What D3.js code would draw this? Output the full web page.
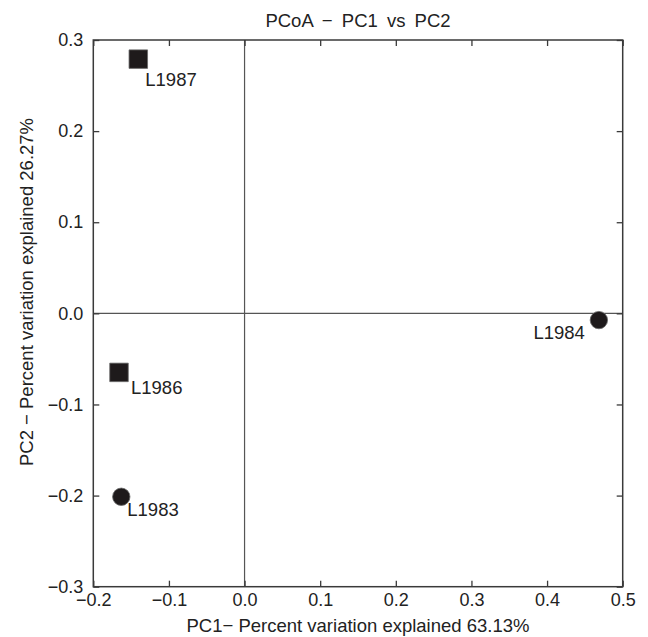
<!DOCTYPE html>
<html>
<head>
<meta charset="utf-8">
<script src="https://cdn.jsdelivr.net/npm/d3@7"></script>
<style>
  html, body { margin: 0; padding: 0; background: #fff; }
  text { font-family: "Liberation Sans", Arial, sans-serif; fill: #222; }
</style>
</head>
<body>
<svg id="chart" width="648" height="637"></svg>
<script>
// ---- data ----
const sampleNames = ["L1987", "L1986", "L1983", "L1984"];
const pc1Values   = [-0.1405, -0.166, -0.163, 0.4685];
const pc2Values   = [0.279, -0.0648, -0.2013, -0.0074];
const markerShape = ["square", "square", "circle", "circle"];
const xTickValues = [-0.2, -0.1, 0.0, 0.1, 0.2, 0.3, 0.4, 0.5];
const yTickValues = [-0.3, -0.2, -0.1, 0.0, 0.1, 0.2, 0.3];
const titleText  = "PCoA − PC1 vs PC2";
const xLabelText = "PC1− Percent variation explained 63.13%";
const yLabelText = "PC2 − Percent variation explained 26.27%";

// label placement (pixel offsets from marker, anchor)
const labelPlacement = [
  { dx: 7,  dy: 27, anchor: "start" },
  { dx: 12, dy: 22, anchor: "start" },
  { dx: 6,  dy: 19, anchor: "start" },
  { dx: -14, dy: 19, anchor: "end" }
];

// ---- layout ----
const mLeft = 93.3, mRight = 622.7, mTop = 40, mBottom = 586.7;
const svg = d3.select("#chart");
const x = d3.scaleLinear().domain([-0.2, 0.5]).range([mLeft, mRight]);
const y = d3.scaleLinear().domain([-0.3, 0.3]).range([mBottom, mTop]);
const fmt = d3.format(".1f");
const axisColor = "#3a3a3a";
const fsTick = 18, fsText = 18.5;

// zero reference lines
svg.append("line").attr("x1", x(0)).attr("x2", x(0)).attr("y1", mTop).attr("y2", mBottom)
  .attr("stroke", "#555").attr("stroke-width", 1.2);
svg.append("line").attr("x1", mLeft).attr("x2", mRight).attr("y1", y(0)).attr("y2", y(0))
  .attr("stroke", "#555").attr("stroke-width", 1.2);

// axes (inward ticks)
function styleAxis(g) {
  g.select(".domain").remove();
  g.selectAll(".tick line").attr("stroke", axisColor).attr("stroke-width", 1.3);
  g.selectAll(".tick text").style("font-size", fsTick + "px").attr("fill", "#222");
}
svg.append("g").attr("transform", `translate(0,${mBottom})`)
  .call(d3.axisBottom(x).tickValues(xTickValues).tickFormat(fmt).tickSizeInner(-6).tickPadding(7))
  .call(styleAxis);
svg.append("g").attr("transform", `translate(0,${mTop})`)
  .call(d3.axisTop(x).tickValues(xTickValues).tickFormat("").tickSizeInner(-6))
  .call(styleAxis);
svg.append("g").attr("transform", `translate(${mLeft},0)`)
  .call(d3.axisLeft(y).tickValues(yTickValues).tickFormat(fmt).tickSizeInner(-6).tickPadding(10))
  .call(styleAxis);
svg.append("g").attr("transform", `translate(${mRight},0)`)
  .call(d3.axisRight(y).tickValues(yTickValues).tickFormat("").tickSizeInner(-6))
  .call(styleAxis);

// frame
svg.append("rect").attr("x", mLeft).attr("y", mTop)
  .attr("width", mRight - mLeft).attr("height", mBottom - mTop)
  .attr("fill", "none").attr("stroke", axisColor).attr("stroke-width", 1.5);

// points
const pts = sampleNames.map((n, i) => ({ name: n, px: pc1Values[i], py: pc2Values[i], shape: markerShape[i], lp: labelPlacement[i] }));
const sym = { square: d3.symbolSquare, circle: d3.symbolCircle };
const sizes = { square: 18.5 * 18.5, circle: Math.PI * 8.7 * 8.7 };
svg.append("g").selectAll("path").data(pts).join("path")
  .attr("transform", d => `translate(${x(d.px)},${y(d.py)})`)
  .attr("d", d => d3.symbol().type(sym[d.shape]).size(sizes[d.shape])())
  .attr("fill", "#1e1a1b")
  .attr("stroke", "#666").attr("stroke-width", 0.8);

svg.append("g").selectAll("text").data(pts).join("text")
  .attr("x", d => x(d.px) + d.lp.dx)
  .attr("y", d => y(d.py) + d.lp.dy)
  .attr("text-anchor", d => d.lp.anchor)
  .style("font-size", fsText + "px")
  .text(d => d.name);

// title & labels
svg.append("text").attr("x", (mLeft + mRight) / 2).attr("y", 26.5)
  .attr("text-anchor", "middle").style("font-size", fsText + "px")
  .style("word-spacing", "4px").text(titleText);
svg.append("text").attr("x", (mLeft + mRight) / 2).attr("y", 631.5)
  .attr("text-anchor", "middle").style("font-size", fsText + "px").text(xLabelText);
svg.append("text").attr("transform", "translate(33,292) rotate(-90)")
  .attr("text-anchor", "middle").style("font-size", fsText + "px").text(yLabelText);
</script>
</body>
</html>
